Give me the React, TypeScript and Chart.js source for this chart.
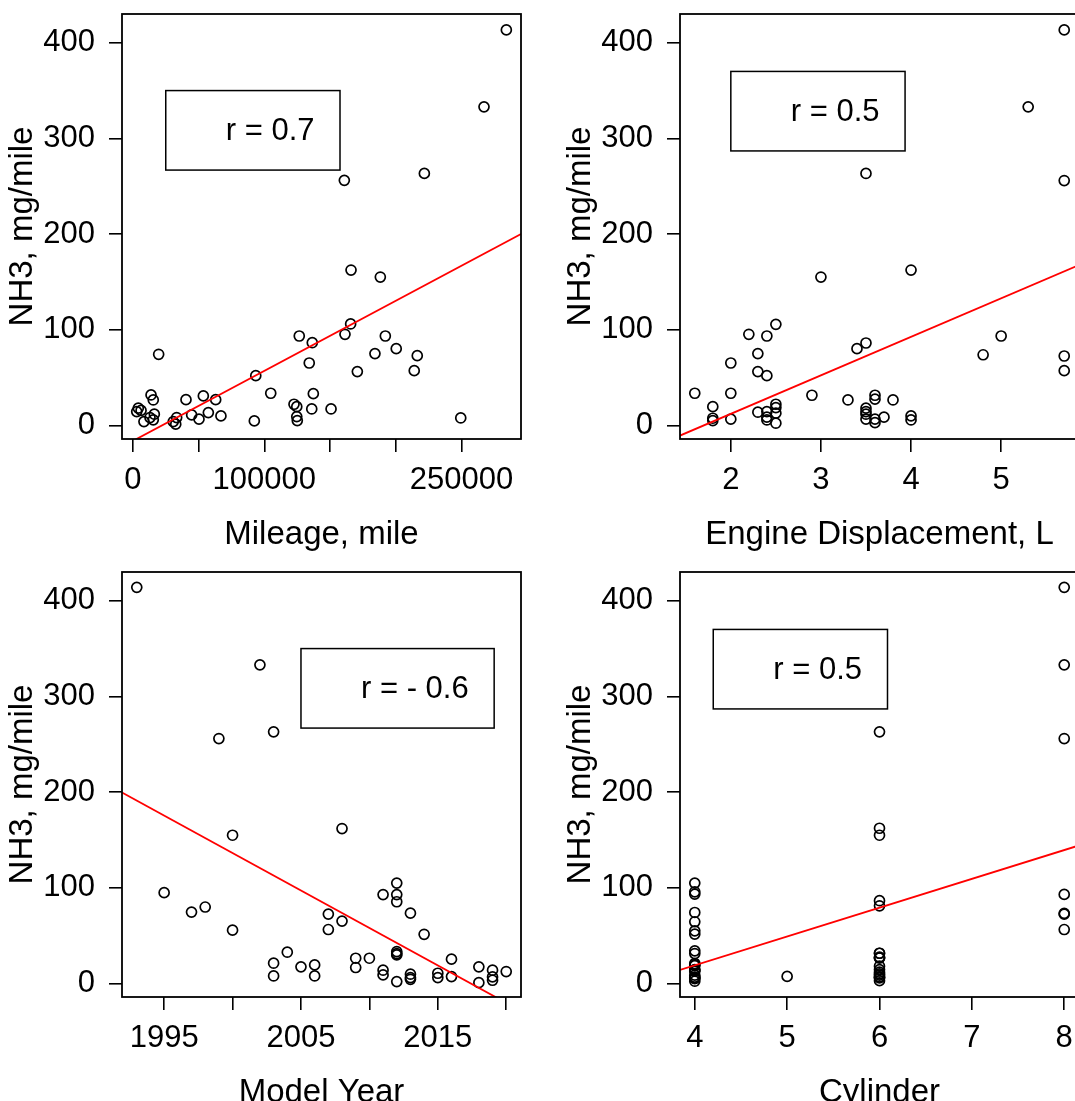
import React, { useEffect, useRef } from "react";
import { Chart, registerables } from "chart.js";

Chart.register(...registerables);

const FONT = "'Liberation Sans', Arial, Helvetica, sans-serif";

// ---- shared y axis ----
const nh3Ticks = [0, 100, 200, 300, 400];
const nh3TickLabels = ["0", "100", "200", "300", "400"];
const nh3Range = [-14, 430];
const yTitle = "NH3, mg/mile";

// ---- panel 1: mileage ----
const mileage = [
  284200, 267200, 221800, 160900, 166000, 188300, 165700, 161400, 192100, 126600,
  136500, 200400, 184200, 216400, 19600, 134200, 214100, 170800, 93500, 104900,
  137300, 13800, 53600, 15500, 40400, 63000, 122600, 124700, 150800, 136100,
  4100, 2900, 6200, 16300, 8400, 13000, 15500, 57400, 44700, 50300,
  67000, 30700, 33300, 32600, 92400, 124700, 125100, 249500,
];
const nh3ByMileage = [
  413.4, 333, 263.5, 256.2, 162.5, 155.2, 106.2, 95.4, 93.6, 93.6,
  86.6, 80.4, 75.2, 73.1, 74.5, 65.4, 57.4, 56.4, 52.2, 33.8,
  33.4, 32.0, 31.0, 26.8, 27.1, 27.1, 22.3, 19.8, 17.4, 17.4,
  18.2, 14.6, 15.9, 11.9, 4.2, 8.4, 6.0, 13.6, 11.2, 6.7,
  10.1, 4.2, 8.4, 1.5, 4.9, 9.4, 5.2, 8.0,
];
const mileageTicks = [0, 50000, 100000, 150000, 200000, 250000];
const mileageTickLabels = ["0", "", "100000", "", "", "250000"];
const mileageRange = [-8300, 295350];
const mileageFitY = [-22.1, 200.1];
const mileageLegendAt = [25000, 350];
const mileageR = "r = 0.7";

// ---- panel 2: engine displacement ----
const displacement = [
  5.7, 5.3, 3.5, 5.7, 4.0, 3.0, 2.5, 2.2, 2.4, 5.0,
  3.5, 3.4, 2.3, 4.8, 5.7, 2.0, 2.3, 5.7, 2.4, 1.6,
  2.0, 2.9, 3.3, 3.6, 3.6, 3.8, 1.8, 2.5, 2.5, 2.5,
  2.5, 2.3, 2.4, 2.4, 2.4, 1.8, 1.8, 2.0, 3.5, 3.5,
  3.5, 3.5, 3.6, 3.6, 3.7, 4.0, 4.0,
];
const nh3ByDisplacement = [
  413.4, 333, 263.4, 256, 162.5, 155.2, 105.8, 95.4, 93.6, 93.6,
  86.3, 80.4, 75.2, 74.0, 72.7, 65.4, 56.4, 57.4, 52.2, 33.8,
  33.8, 31.7, 26.8, 31.7, 27.6, 26.8, 19.8, 22.3, 18.8, 13.0,
  2.5, 14.0, 14.6, 8.8, 5.9, 7.7, 5.2, 6.7, 18.2, 14.6,
  11.9, 6.7, 6.7, 3.1, 8.8, 10.1, 5.9,
];
const displacementTicks = [2, 3, 4, 5];
const displacementTickLabels = ["2", "3", "4", "5"];
const displacementRange = [1.436, 5.864];
const displacementFitY = [-10.4, 167.7];
const displacementLegendAt = [2.0, 370];
const displacementR = "r = 0.5";

// ---- panel 3: model year ----
const modelYear = [
  1993, 2002, 2003, 1999, 2008, 2000, 2012, 1995, 2011, 2012,
  2012, 1998, 1997, 2007, 2013, 2008, 2007, 2000, 2014, 2004,
  2012, 2012, 2012, 2003, 2003, 2005, 2006, 2006, 2009, 2009,
  2010, 2011, 2011, 2012, 2013, 2013, 2013, 2015, 2015, 2016,
  2016, 2018, 2018, 2019, 2019, 2019, 2020,
];
const nh3ByYear = [
  414, 333, 263, 256, 162, 155, 105, 95, 93, 93,
  85.5, 80, 74.7, 72.6, 73.6, 65.3, 56.5, 55.8, 51.5, 32.8,
  33.5, 31.4, 30, 21.3, 8.0, 17.5, 19.5, 8.0, 26.5, 16.8,
  26.5, 14.0, 9.1, 2.1, 9.8, 6.3, 4.5, 10.8, 6.3, 25.5,
  7.3, 17.5, 1.0, 14.0, 7.0, 3.5, 12.6,
];
const yearTicks = [1995, 2000, 2005, 2010, 2015, 2020];
const yearTickLabels = ["1995", "", "2005", "", "2015", ""];
const yearRange = [1991.92, 2021.08];
const yearFitY = [199.7, -28.6];
const yearLegendAt = [2005, 350];
const yearR = "r = - 0.6";

// ---- panel 4: cylinder ----
const cylinder = [
  4, 4, 4, 4, 4, 4, 4, 4, 4, 4,
  4, 4, 4, 4, 4, 4, 4, 4, 4, 4,
  5,
  6, 6, 6, 6, 6, 6, 6, 6, 6, 6,
  6, 6, 6, 6, 6, 6, 6, 6, 6,
  8, 8, 8, 8, 8, 8, 8,
];
const nh3ByCylinder = [
  105, 95.9, 93.5, 74.3, 64.6, 55.1, 51.7, 34.2, 31.4, 21,
  19.8, 18.8, 14.6, 14.0, 13.0, 8.8, 6.7, 5.9, 5.2, 2.5,
  7.5,
  263, 162.3, 155, 86.6, 81.3, 31.7, 31.7, 27.6, 26.8, 26.8,
  18.2, 14.6, 11.9, 10.1, 8.8, 6.7, 6.7, 5.9, 3.1,
  414, 333, 256, 93.2, 73.3, 72.6, 56.5,
];
const cylinderTicks = [4, 5, 6, 7, 8];
const cylinderTickLabels = ["4", "5", "6", "7", "8"];
const cylinderRange = [3.84, 8.16];
const cylinderFitY = [14.3, 144.3];
const cylinderLegendAt = [4.2, 370];
const cylinderR = "r = 0.5";

type PanelCfg = {
  xs: number[];
  ys: number[];
  xTicks: number[];
  xTickLabels: string[];
  xRange: number[];
  fitY: number[];
  legendAt: number[];
  legendText: string;
  xTitle: string;
};

const panels: { left: number; top: number; cfg: PanelCfg }[] = [
  {
    left: 0, top: 0,
    cfg: { xs: mileage, ys: nh3ByMileage, xTicks: mileageTicks, xTickLabels: mileageTickLabels, xRange: mileageRange, fitY: mileageFitY, legendAt: mileageLegendAt, legendText: mileageR, xTitle: "Mileage, mile" },
  },
  {
    left: 558, top: 0,
    cfg: { xs: displacement, ys: nh3ByDisplacement, xTicks: displacementTicks, xTickLabels: displacementTickLabels, xRange: displacementRange, fitY: displacementFitY, legendAt: displacementLegendAt, legendText: displacementR, xTitle: "Engine Displacement, L" },
  },
  {
    left: 0, top: 558,
    cfg: { xs: modelYear, ys: nh3ByYear, xTicks: yearTicks, xTickLabels: yearTickLabels, xRange: yearRange, fitY: yearFitY, legendAt: yearLegendAt, legendText: yearR, xTitle: "Model Year" },
  },
  {
    left: 558, top: 558,
    cfg: { xs: cylinder, ys: nh3ByCylinder, xTicks: cylinderTicks, xTickLabels: cylinderTickLabels, xRange: cylinderRange, fitY: cylinderFitY, legendAt: cylinderLegendAt, legendText: cylinderR, xTitle: "Cylinder" },
  },
];

const W = 540;
const H = 558;
const TICK_FONT = 31;
const TITLE_FONT = 33;
const LEGEND_FONT = 31;

function Panel({ left, top, cfg }: { left: number; top: number; cfg: PanelCfg }) {
  const ref = useRef<HTMLCanvasElement>(null);
  useEffect(() => {
    const canvas = ref.current!;
    const framePlugin = {
      id: "frameAndLegend",
      afterDraw(chart: any) {
        const { ctx, chartArea } = chart;
        const xs = chart.scales.x;
        const ys = chart.scales.y;
        ctx.save();
        ctx.strokeStyle = "#000";
        ctx.lineWidth = 1.8;
        ctx.strokeRect(chartArea.left, chartArea.top, chartArea.right - chartArea.left, chartArea.bottom - chartArea.top);
        // legend box
        ctx.font = `${LEGEND_FONT}px ${FONT}`;
        const tw = ctx.measureText(cfg.legendText).width;
        const bx = xs.getPixelForValue(cfg.legendAt[0]);
        const by = ys.getPixelForValue(cfg.legendAt[1]);
        const bw = 60 + tw + 25.5;
        const bh = 79.5;
        ctx.lineWidth = 1.5;
        ctx.strokeRect(bx, by, bw, bh);
        ctx.fillStyle = "#000";
        ctx.textAlign = "right";
        ctx.textBaseline = "middle";
        ctx.fillText(cfg.legendText, bx + bw - 25.5, by + bh / 2 + 1.5);
        ctx.restore();
      },
    };
    const pts = cfg.xs.map((x, i) => ({ x, y: cfg.ys[i] }));
    const fit = cfg.xRange.map((x, i) => ({ x, y: cfg.fitY[i] }));
    const chart = new Chart(canvas, {
      type: "scatter",
      data: {
        datasets: [
          {
            data: fit,
            showLine: true,
            borderColor: "#ff0000",
            borderWidth: 1.8,
            pointRadius: 0,
            fill: false,
          } as any,
          {
            data: pts,
            pointStyle: "circle",
            pointRadius: 5,
            pointBorderWidth: 1.7,
            borderColor: "#000",
            backgroundColor: "rgba(0,0,0,0)",
            pointBackgroundColor: "rgba(0,0,0,0)",
            pointBorderColor: "#000",
          } as any,
        ],
      },
      options: {
        animation: false,
        responsive: false,
        maintainAspectRatio: false,
        devicePixelRatio: 1,
        events: [],
        layout: { padding: { left: 0, top: 14, right: 19, bottom: 0 } },
        plugins: { legend: { display: false }, tooltip: { enabled: false } },
        scales: {
          x: {
            type: "linear",
            position: "bottom",
            min: cfg.xRange[0],
            max: cfg.xRange[1],
            afterBuildTicks: (s: any) => {
              s.ticks = cfg.xTicks.map((v) => ({ value: v }));
            },
            afterFit: (s: any) => {
              s.height = H - 439;
              s.paddingLeft = 0;
              s.paddingRight = 0;
              s.paddingTop = 0;
              s.paddingBottom = 0;
            },
            ticks: {
              autoSkip: false,
              maxRotation: 0,
              minRotation: 0,
              color: "#000",
              padding: 9.5,
              font: { family: FONT, size: TICK_FONT },
              callback: (_v: any, i: number) => cfg.xTickLabels[i],
            },
            grid: { display: true, drawOnChartArea: false, drawTicks: true, tickLength: 13, color: "#000", lineWidth: 1.6 },
            border: { display: false },
            title: {
              display: true,
              text: cfg.xTitle,
              color: "#000",
              font: { family: FONT, size: TITLE_FONT },
              padding: { top: 0, bottom: 3 },
            },
          },
          y: {
            type: "linear",
            position: "left",
            min: nh3Range[0],
            max: nh3Range[1],
            afterBuildTicks: (s: any) => {
              s.ticks = nh3Ticks.map((v) => ({ value: v }));
            },
            afterFit: (s: any) => {
              s.width = 122;
              s.paddingLeft = 0;
              s.paddingRight = 0;
              s.paddingTop = 0;
              s.paddingBottom = 0;
            },
            ticks: {
              autoSkip: false,
              color: "#000",
              padding: 14,
              font: { family: FONT, size: TICK_FONT },
              callback: (_v: any, i: number) => nh3TickLabels[i],
            },
            grid: { display: true, drawOnChartArea: false, drawTicks: true, tickLength: 13, color: "#000", lineWidth: 1.6 },
            border: { display: false },
            title: {
              display: true,
              text: yTitle,
              color: "#000",
              font: { family: FONT, size: TITLE_FONT },
              padding: { top: 3, bottom: 0 },
            },
          },
        },
      } as any,
      plugins: [framePlugin],
    });
    return () => chart.destroy();
  }, []);
  return (
    <canvas
      ref={ref}
      width={W}
      height={H}
      style={{ position: "absolute", left, top, width: W, height: H, display: "block" }}
    />
  );
}

export default function App() {
  return (
    <div
      style={{
        position: "absolute",
        left: 0,
        top: 0,
        width: 1075,
        height: 1101,
        overflow: "hidden",
        background: "#fff",
      }}
    >
      {panels.map((p, i) => (
        <Panel key={i} left={p.left} top={p.top} cfg={p.cfg} />
      ))}
    </div>
  );
}
